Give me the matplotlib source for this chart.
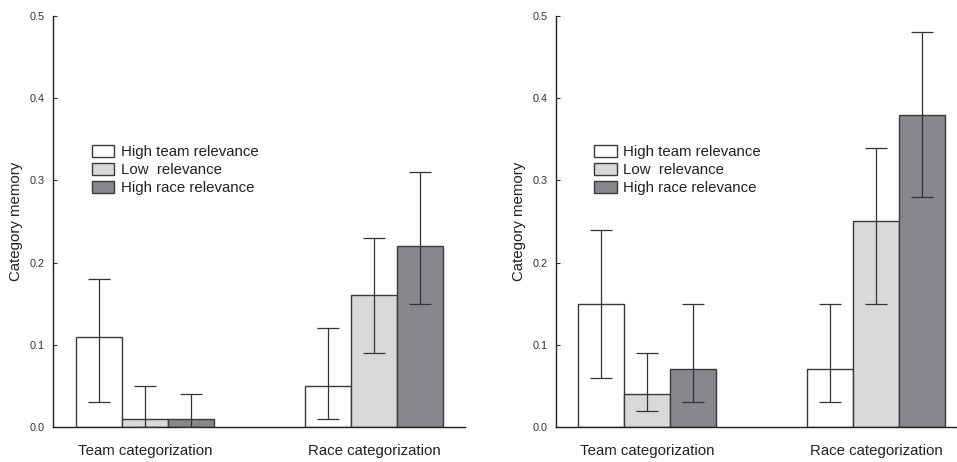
import matplotlib
matplotlib.use("Agg")
import matplotlib.pyplot as plt
import numpy as np

plt.rcParams['font.family'] = ['Liberation Sans', 'DejaVu Sans']

groups = ["Team categorization", "Race categorization"]
conditions = ["High team relevance", "Low  relevance", "High race relevance"]
colors = ["#ffffff", "#d8d9db", "#87888b"]

# Panel 1
left_means = [[0.11, 0.01, 0.01], [0.05, 0.16, 0.22]]
left_low = [[0.03, 0.00, 0.00], [0.01, 0.09, 0.15]]
left_high = [[0.18, 0.05, 0.04], [0.12, 0.23, 0.31]]

# Panel 2
right_means = [[0.15, 0.04, 0.07], [0.07, 0.25, 0.38]]
right_low = [[0.06, 0.02, 0.03], [0.03, 0.15, 0.28]]
right_high = [[0.24, 0.09, 0.15], [0.15, 0.34, 0.48]]

yticks = [0.0, 0.1, 0.2, 0.3, 0.4, 0.5]

fig = plt.figure(figsize=(9.57, 4.62), dpi=100)
ax1 = fig.add_axes([0.0554, 0.0758, 0.4305, 0.8896])
ax2 = fig.add_axes([0.581, 0.0758, 0.419, 0.8896])

width = 0.2
edge = "#3a3a3a"


def draw(ax, means, low, high, xlim):
    x = np.arange(len(groups))
    for j in range(len(conditions)):
        m = np.array([means[g][j] for g in range(len(groups))])
        lo = np.array([low[g][j] for g in range(len(groups))])
        hi = np.array([high[g][j] for g in range(len(groups))])
        pos = x + (j - 1) * width
        ax.bar(pos, m, width, color=colors[j], edgecolor=edge, linewidth=1.0,
               label=conditions[j], zorder=2)
        ax.errorbar(pos, m, yerr=[m - lo, hi - m], fmt="none", ecolor="#333333",
                    elinewidth=0.9, capsize=8, capthick=0.9, zorder=3)
    ax.set_xlim(*xlim)
    ax.set_ylim(0, 0.5)
    ax.set_yticks(yticks)
    ax.set_yticklabels([f"{v:.1f}" for v in yticks], fontsize=7.8, color="#333333")
    ax.set_xticks(x)
    ax.set_xticklabels(groups, fontsize=10.8, color="#222222")
    ax.tick_params(axis="x", direction="in", length=3, pad=12, color="#333333")
    ax.tick_params(axis="y", direction="in", length=3, pad=6, color="#333333")
    for s in ("top", "right"):
        ax.spines[s].set_visible(False)
    for s in ("left", "bottom"):
        ax.spines[s].set_color("#222222")
        ax.spines[s].set_linewidth(1.0)
    ax.set_ylabel("Category memory", fontsize=10.8, color="#222222", labelpad=5)
    leg = ax.legend(loc="upper left", bbox_to_anchor=(0.08, 0.70), frameon=False,
                    fontsize=10.8, handlelength=1.5, handleheight=0.85,
                    handletextpad=0.45, labelspacing=0.25, borderaxespad=0)
    for t in leg.get_texts():
        t.set_color("#222222")


draw(ax1, left_means, left_low, left_high, (-0.402, 1.397))
draw(ax2, right_means, right_low, right_high, (-0.397, 1.354))

fig.savefig("out.png", dpi=100)
